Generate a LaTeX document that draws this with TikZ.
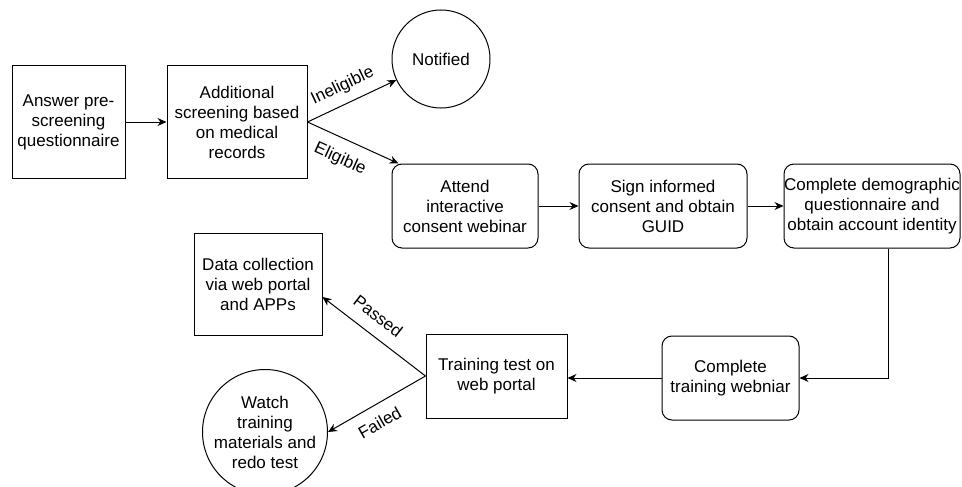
\documentclass[tikz,border=0pt]{standalone}
\usepackage{fontspec}
\setmainfont{Liberation Sans}
\usetikzlibrary{arrows.meta}

\begin{document}
\begin{tikzpicture}[
    x=1pt, y=-1pt,
    box/.style={draw, rectangle, line width=1pt, align=center, inner sep=0pt, font=\fontsize{17}{20}\selectfont},
    rbox/.style={box, rounded corners=10pt},
    circ/.style={draw, circle, line width=1pt, align=center, inner sep=0pt, font=\fontsize{17}{20}\selectfont},
    arrow/.style={-{Stealth[length=9pt, width=8pt]}, line width=1pt},
    lbl/.style={sloped, inner sep=1pt, font=\fontsize{17}{20}\selectfont}
]
\useasboundingbox (0,0) rectangle (962,487);

% Screening steps
\node[box, minimum width=113pt, minimum height=112pt] (answer) at (68.5,122) {Answer pre-\\screening\\questionnaire};
\node[box, minimum width=140pt, minimum height=112pt] (screen) at (237,122) {Additional\\screening based\\on medical\\records};
\node[circ, minimum size=98pt] (notified) at (441,59) {Notified};

% Consent steps
\node[rbox, minimum width=146pt, minimum height=84pt] (webinar) at (465,206) {Attend\\interactive\\consent webinar};
\node[rbox, minimum width=168pt, minimum height=84pt] (consent) at (663,206) {Sign informed\\consent and obtain\\GUID};
\node[rbox, minimum width=176pt, minimum height=84pt] (demo) at (872,206) {Complete demographic\\questionnaire and\\obtain account identity};

% Training steps
\node[rbox, minimum width=137pt, minimum height=84pt] (training) at (730.5,378) {Complete\\training webniar};
\node[box, minimum width=141pt, minimum height=84pt] (test) at (496.5,376) {Training test on\\web portal};
\node[box, minimum width=128pt, minimum height=102pt] (data) at (258,284) {Data collection\\via web portal\\and APPs};
\node[circ, minimum size=114pt] (watch) at (265,432) {Watch\\training\\materials and\\redo test};

% Arrows
\draw[arrow] (answer) -- (screen);
\draw[arrow] (screen.east) -- (notified) node[lbl, above=8pt, pos=0.48] (inelig) {Ineligible};
\draw[arrow] (screen.east) -- ([xshift=7pt]webinar.north west) node[lbl, below=11pt, pos=0.45] (elig) {Eligible};
\draw[arrow] (webinar) -- (consent);
\draw[arrow] (consent) -- (demo);
\draw[arrow] ([xshift=16pt]demo.south) |- (training.east);
\draw[arrow] (training.west) -- (test.east |- training.west);
\draw[arrow] (test.west) -- ([yshift=-13pt]data.east) node[lbl, above=11pt, pos=0.57] (passed) {Passed};
\draw[arrow] (test.west) -- (watch.east) node[lbl, below=10pt, pos=0.56] (failed) {Failed};

\end{tikzpicture}
\end{document}
